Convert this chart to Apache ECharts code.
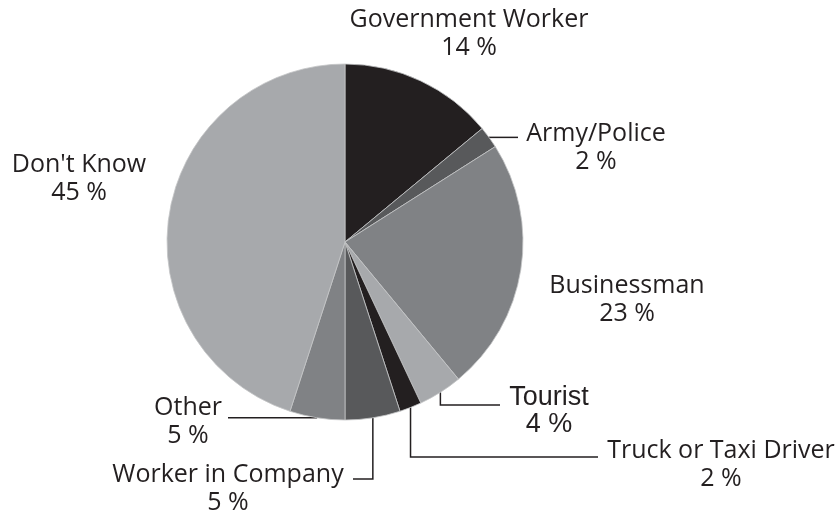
<!DOCTYPE html>
<html>
<head>
<meta charset="utf-8">
<script src="https://cdn.jsdelivr.net/npm/echarts@6/dist/echarts.min.js"></script>
<style>
  html, body { margin: 0; padding: 0; background: #fff; }
  #chart { width: 838px; height: 521px; }
</style>
</head>
<body>
<div id="chart"></div>
<script>
const categories = [
  "Government Worker",
  "Army/Police",
  "Businessman",
  "Tourist",
  "Truck or Taxi Driver",
  "Worker in Company",
  "Other",
  "Don't Know",
];
const shares = [14, 2, 23, 4, 2, 5, 5, 45];

const sliceColors = ["#231f20", "#58595b", "#808285", "#a7a9ac", "#231f20", "#58595b", "#808285", "#a7a9ac"];

// where each label block sits (centre of the two text lines)
const labelSpots = [
  [469, 34], [596, 148], [627, 300], [549, 411],
  [721, 465], [228, 489], [188, 422], [79, 179],
];
// how each leader line bends after leaving the slice edge
const leaders = {
  1: (p) => [p, [p[0] + 12, p[1]], [518, p[1]]],
  3: (p) => [p, [p[0], 405], [500, 405]],
  4: (p) => [p, [p[0], 457], [598, 457]],
  5: (p) => [p, [p[0], 479], [353, 479]],
  6: (p) => [p, [p[0] - 20, p[1]], [228, p[1]]],
};

const textColor = "#231f20";

const chart = echarts.init(document.getElementById("chart"));

const data = categories.map((name, i) => {
  const item = {
    name,
    value: shares[i],
    itemStyle: { color: sliceColors[i] },
    labelLine: { show: !!leaders[i] },
  };
  if (name === "Tourist") {
    item.label = {
      fontFamily: "Liberation Sans",
      fontSize: 27,
      lineHeight: 27,
    };
  }
  return item;
});

chart.setOption({
  animation: false,
  series: [
    {
      type: "pie",
      center: [345, 242],
      radius: 178,
      startAngle: 90,
      clockwise: true,
      avoidLabelOverlap: false,
      itemStyle: {
        borderColor: "#c4c5c7",
        borderWidth: 0.8,
      },
      label: {
        show: true,
        position: "outside",
        formatter: "{b}\n{c} %",
        color: textColor,
        fontFamily: "Open Sans",
        fontSize: 25,
        lineHeight: 28,
        align: "center",
      },
      labelLine: {
        show: true,
        length: 10,
        length2: 10,
        lineStyle: { color: textColor, width: 1.5 },
      },
      labelLayout: (params) => {
        const i = params.dataIndex;
        const spot = labelSpots[i];
        const out = {
          x: spot[0],
          y: spot[1],
          align: "center",
          verticalAlign: "middle",
        };
        if (leaders[i] && params.labelLinePoints) {
          out.labelLinePoints = leaders[i](params.labelLinePoints[0]);
        }
        return out;
      },
      data,
    },
  ],
});
</script>
</body>
</html>
